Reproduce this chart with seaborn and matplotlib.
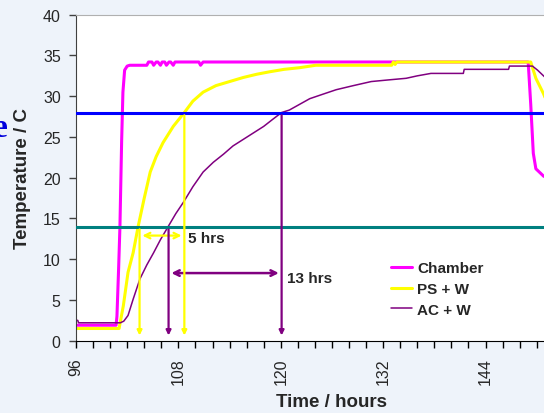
import seaborn as sns
import matplotlib.pyplot as plt
from matplotlib.ticker import MultipleLocator

# DATA ----------------------------------------------------------------------------------------

chamber_t = [96, 100.7, 100.8, 101.0, 101.15, 101.35, 101.5, 101.7, 102.0, 102.3, 104.3, 104.5,
             104.9, 105.1, 105.4, 105.6, 105.9, 106.1, 106.4, 106.6, 106.9, 107.1, 107.4, 107.6,
             110.4, 110.6, 110.9, 111.1, 149.0, 149.3, 149.6, 149.9, 150.8, 151.5]
chamber_temp = [1.9, 1.9, 3.0, 9.0, 14.0, 24.5, 30.5, 33.2, 33.7, 33.8, 33.8, 34.2,
                34.2, 33.8, 34.2, 34.2, 33.8, 34.2, 34.2, 33.8, 34.2, 34.2, 33.8, 34.2,
                34.2, 33.8, 34.2, 34.2, 34.2, 29.0, 23.0, 21.1, 20.2, 19.8]

ps_t = [96, 101.05, 101.55, 102.1, 102.7, 103.3, 104.0, 104.7, 105.4, 106.2, 107.4, 108.7,
        109.7, 110.9, 112.4, 114.0, 115.6, 117.2, 118.7, 120.4, 122.2, 124.1, 133.0, 133.2,
        133.4, 133.6, 149.3, 149.9, 150.8, 151.5]
ps_temp = [1.5, 1.5, 4.3, 8.4, 10.8, 14.1, 17.5, 20.7, 22.6, 24.3, 26.3, 28.0,
           29.4, 30.5, 31.3, 31.8, 32.3, 32.7, 33.0, 33.3, 33.5, 33.8, 33.8, 34.2,
           33.9, 34.2, 34.2, 32.2, 30.3, 28.5]

ac_t = [96, 96.2, 96.3, 101.2, 101.6, 102.1, 102.7, 103.5, 104.3, 105.1, 105.9, 106.8,
        107.7, 108.6, 109.7, 110.9, 112.1, 113.3, 114.4, 115.6, 116.8, 118.0, 119.1, 120.1,
        121.0, 122.2, 123.4, 124.8, 126.5, 128.5, 130.6, 132.6, 134.7, 136.0, 137.6, 141.4,
        141.5, 146.7, 146.8, 149.5, 150.1, 150.8, 151.5]
ac_temp = [2.5, 2.5, 2.2, 2.2, 2.4, 3.1, 5.1, 7.6, 9.3, 10.8, 12.4, 14.0,
           15.6, 17.0, 18.9, 20.7, 21.9, 22.9, 23.9, 24.7, 25.5, 26.3, 27.2, 28.0,
           28.3, 29.0, 29.7, 30.2, 30.8, 31.3, 31.8, 32.0, 32.2, 32.5, 32.8, 32.8,
           33.3, 33.3, 33.7, 33.7, 33.2, 32.5, 31.8]

levels = [14, 28]
ps_cross = [103.45, 108.7]     # PS + W reaches 14 and 28 C
ac_cross = [106.85, 120.1]     # AC + W reaches 14 and 28 C
ps_span_y = 12.9
ac_span_y = 8.3
x_ticks = [96, 108, 120, 132, 144]

# STYLE ------------------------------------------------------------------------------------------

sns.set_style("ticks")
plt.rcParams['font.family'] = ['Liberation Sans', 'DejaVu Sans']

fig = plt.figure(figsize=(5.44, 4.14), dpi=100, facecolor='#eef3fa')
ax = fig.add_axes([0.1397, 0.1746, 0.941, 0.7874])
ax.set_facecolor('white')

# PLOT -------------------------------------------------------------------------------------------

sns.lineplot(x=chamber_t, y=chamber_temp, ax=ax, color='#ff00ff', lw=2.2,
             estimator=None, sort=False, label='Chamber', zorder=2)
sns.lineplot(x=ps_t, y=ps_temp, ax=ax, color='#ffff00', lw=2.2,
             estimator=None, sort=False, label='PS + W', zorder=2)
sns.lineplot(x=ac_t, y=ac_temp, ax=ax, color='#800080', lw=1.1,
             estimator=None, sort=False, label='AC + W', zorder=2)

# threshold lines
ax.axhline(levels[1], color='#0000ff', lw=2.2, zorder=3)
ax.axhline(levels[0], color='#008080', lw=2.2, zorder=3)

# drop lines from crossing points down to the axis
for t, lev in zip(ps_cross, levels):
    ax.annotate('', xy=(t, 0.3), xytext=(t, lev),
                arrowprops=dict(arrowstyle='-|>', color='#ffff00', lw=1.6, mutation_scale=7),
                zorder=4)
for t, lev in zip(ac_cross, levels):
    ax.annotate('', xy=(t, 0.3), xytext=(t, lev),
                arrowprops=dict(arrowstyle='-|>', color='#800080', lw=1.6, mutation_scale=7),
                zorder=4)

# duration arrows
ax.annotate('', xy=(ps_cross[0], ps_span_y), xytext=(ps_cross[1], ps_span_y),
            arrowprops=dict(arrowstyle='<->', color='#ffff00', lw=1.6, mutation_scale=10))
ax.annotate('', xy=(ac_cross[0], ac_span_y), xytext=(ac_cross[1], ac_span_y),
            arrowprops=dict(arrowstyle='<->', color='#800080', lw=1.8, mutation_scale=10))
ax.text(ps_cross[1] + 0.4, ps_span_y - 0.3, '5 hrs', fontsize=11, fontweight='bold', va='center')
ax.text(ac_cross[1] + 0.6, ac_span_y - 0.6, '13 hrs', fontsize=11, fontweight='bold', va='center')

# AXES -------------------------------------------------------------------------------------------

ax.set_xlim(96, 156)
ax.set_ylim(0, 40)
ax.set_xticks(x_ticks)
ax.xaxis.set_minor_locator(MultipleLocator(2))
ax.yaxis.set_major_locator(MultipleLocator(5))
ax.tick_params(axis='x', which='both', direction='out', length=5, width=1, color='black',
               labelsize=11.5, labelrotation=90, pad=7)
ax.tick_params(axis='y', direction='out', length=5, width=1, color='#404040',
               labelsize=11.5, pad=6)
for lab in ax.get_xticklabels():
    lab.set_va('top')

ax.spines['right'].set_visible(False)
ax.spines['top'].set_color('#b0b0b0')
ax.spines['left'].set_color('#404040')
ax.spines['bottom'].set_color('black')

ax.set_xlabel('Time / hours', fontsize=13.5, fontweight='bold')
ax.set_ylabel('Temperature / C', fontsize=13.5, fontweight='bold')
ax.xaxis.set_label_coords(0.5, -0.16)
ax.yaxis.set_label_coords(-0.087, 0.5)

leg = ax.legend(loc='upper left', bbox_to_anchor=(391 / 544, 1 - 262 / 414),
                bbox_transform=fig.transFigure, frameon=False, borderpad=0, borderaxespad=0,
                handlelength=1.4, handletextpad=0.3, labelspacing=0.45,
                prop={'weight': 'bold', 'size': 11})

# cropped slide title letter at the left edge
fig.text(8 / 544, 1 - 137 / 414, 'e', color='#0000dd', fontsize=24, fontweight='bold',
         family=['Liberation Serif', 'DejaVu Serif'], ha='right', va='baseline')

fig.savefig('out.png', dpi=100, facecolor=fig.get_facecolor())
